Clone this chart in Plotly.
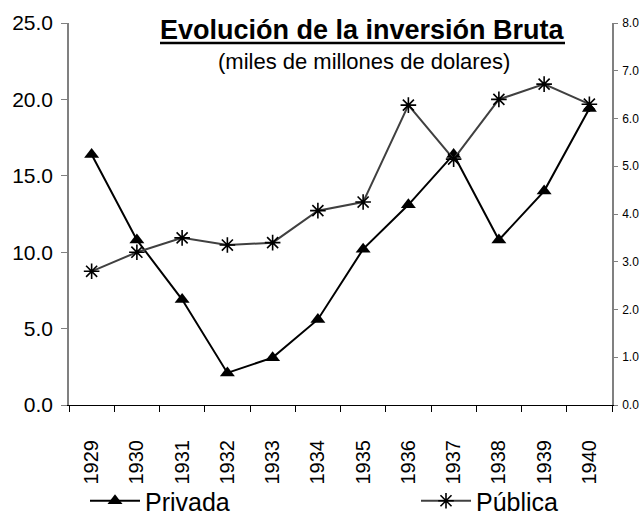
import plotly.graph_objects as go

years = ["1929", "1930", "1931", "1932", "1933", "1934", "1935", "1936", "1937", "1938", "1939", "1940"]
privada = [16.4, 10.8, 6.9, 2.1, 3.1, 5.6, 10.2, 13.1, 16.4, 10.8, 14.0, 19.4]
publica = [2.8, 3.2, 3.5, 3.35, 3.4, 4.07, 4.25, 6.28, 5.15, 6.4, 6.72, 6.3]

W, H = 644, 514
ML, MR, MT, MB = 69, 32, 23, 109
PW, PH = W - ML - MR, H - MT - MB

def px(x):
    return (x - ML) / PW

def py(y):
    return (H - MB - y) / PH

FONT = "Liberation Sans, Arial, sans-serif"

fig = go.Figure()
fig.add_trace(go.Scatter(
    x=years, y=privada, name="Privada", mode="lines+markers",
    line=dict(color="black", width=2),
    marker=dict(symbol="triangle-up", size=13, color="black"),
    yaxis="y", legend="legend",
))
fig.add_trace(go.Scatter(
    x=years, y=publica, name="Pública", mode="lines+markers",
    line=dict(color="#404040", width=2),
    marker=dict(symbol="asterisk-open", size=13, color="black",
                line=dict(color="black", width=1.6)),
    yaxis="y2", legend="legend2",
))

leg_common = dict(orientation="h", xanchor="left", yref="container", y=(H - 501) / H,
                  yanchor="middle", font=dict(size=25, family=FONT),
                  bgcolor="rgba(0,0,0,0)", itemwidth=50)

fig.update_layout(
    width=W, height=H,
    margin=dict(l=ML, r=MR, t=MT, b=MB, autoexpand=False),
    paper_bgcolor="white", plot_bgcolor="white",
    font=dict(family=FONT, color="black"),
    showlegend=True,
    legend=dict(x=px(85), **leg_common),
    legend2=dict(x=px(416), **leg_common),
    xaxis=dict(type="category", tickson="boundaries", ticks="outside", ticklen=6,
               tickcolor="black", showline=True, linecolor="black", linewidth=1,
               tickangle=-90, tickfont=dict(size=20), ticklabelstandoff=26,
               showgrid=False, zeroline=False, range=[-0.5, 11.5]),
    yaxis=dict(range=[0, 25], dtick=5, tickformat=".1f", ticks="outside", ticklen=6,
               tickcolor="#808080", showline=True, linecolor="#808080", linewidth=1.5,
               tickfont=dict(size=21), showgrid=False, zeroline=False,
               ticklabelstandoff=4),
    yaxis2=dict(range=[0, 8], dtick=1, tickformat=".1f", overlaying="y", side="right",
                ticks="outside", ticklen=4, tickcolor="#808080", showline=True,
                linecolor="#808080", linewidth=1.5, tickfont=dict(size=12),
                showgrid=False, zeroline=False, ticklabelstandoff=2),
    annotations=[
        dict(text="<b>Evolución de la inversión Bruta</b>", x=px(362), y=py(30),
             xref="paper", yref="paper", showarrow=False, xanchor="center", yanchor="middle",
             font=dict(size=27, family=FONT)),
        dict(text="(miles de millones de dolares)", x=px(364), y=py(61),
             xref="paper", yref="paper", showarrow=False, xanchor="center", yanchor="middle",
             font=dict(size=22, family=FONT)),
    ],
    shapes=[
        dict(type="line", xref="paper", yref="paper", x0=px(160), x1=px(565),
             y0=py(43), y1=py(43), line=dict(color="black", width=2.5)),
    ],
)

fig.write_html("out.html", config={"displayModeBar": False},
               post_script="document.body.style.margin='0';")
